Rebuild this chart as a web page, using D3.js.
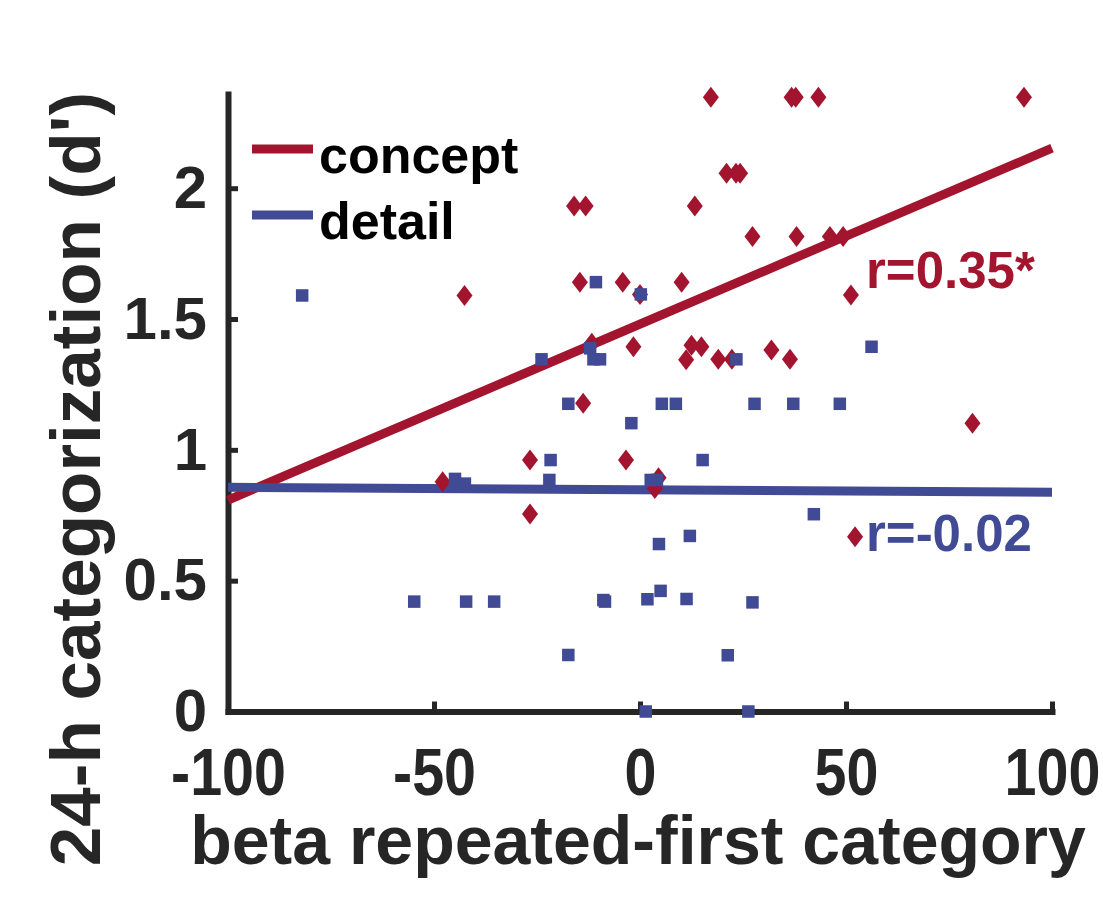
<!DOCTYPE html>
<html>
<head>
<meta charset="utf-8">
<script src="https://cdn.jsdelivr.net/npm/d3@7"></script>
<style>
  html, body { margin: 0; padding: 0; background: #fff; }
  svg { display: block; }
  text { font-family: "Liberation Sans", Arial, Helvetica, sans-serif; font-weight: bold; }
</style>
</head>
<body>
<svg id="chart" width="1103" height="897"></svg>
<script>
// Concept-level memory: beta (repeated - first category) vs 24-h d'
const conceptX = [-42.6, -16.0, -13.2, -14.6, -4.2, -1.6, -11.7, -13.8, 0.0,
  17.2, 36.8, 37.8, 43.3, 93.2, 21.0, 23.3, 24.3, 13.3, 27.3, 38.0, 46.1, 49.3,
  10.1, 51.2, 12.5, 14.9, 11.2, 19.0, 22.3, 31.9, 36.4, 80.7, -26.7, -3.4,
  -47.9, -26.7, 4.5, 3.6, 52.2];
const conceptY = [1.59, 1.932, 1.932, 1.641, 1.641, 1.394, 1.407, 1.178, 1.594,
  2.348, 2.348, 2.348, 2.348, 2.348, 2.057, 2.057, 2.057, 1.932, 1.815, 1.815, 1.815, 1.815,
  1.641, 1.592, 1.40, 1.394, 1.344, 1.346, 1.346, 1.382, 1.346, 1.102, 0.961, 0.961,
  0.878, 0.755, 0.893, 0.852, 0.668];

// Detail-level memory
const detailX = [-82.0, -10.7, 0.2, -23.9, -12.1, -11.3, -9.7, -17.4, 23.4, 56.2,
  5.3, 8.7, 27.8, 37.2, 48.5, -2.1, -21.7, 15.2, -44.9, -42.5, -22.0, 2.6, 4.1,
  42.2, 4.6, 12.1, -54.8, -42.2, -35.4, -8.9, -8.5, 1.8, 5.0, 11.3, 27.3,
  -17.4, 21.3, 1.4, 26.3];
const detailY = [1.59, 1.641, 1.594, 1.346, 1.388, 1.346, 1.346, 1.176, 1.346, 1.394,
  1.176, 1.176, 1.176, 1.176, 1.176, 1.102, 0.961, 0.961, 0.889, 0.871, 0.885, 0.885, 0.885,
  0.754, 0.64, 0.671, 0.42, 0.42, 0.42, 0.426, 0.42, 0.429, 0.461, 0.43, 0.417,
  0.216, 0.215, 0.0, 0.0];

// Least-squares fit lines, evaluated at the x-axis limits
const fitX = [-100, 100];
const conceptFitY = [0.808, 2.153];
const detailFitY = [0.857, 0.838];

const xTicks = [-100, -50, 0, 50, 100];
const yTicks = [0, 0.5, 1, 1.5, 2];
const seriesNames = ["concept", "detail"];
const corrLabels = ["r=0.35*", "r=-0.02"];

const RED = "#a3142f";
const BLUE = "#414a94";
const AXIS = "#262626";

const svg = d3.select("#chart");

const x = d3.scaleLinear().domain([-100, 100]).range([228, 1052]);
const y = d3.scaleLinear().domain([0, 2.36]).range([711.5, 94]);

// Axes (ticks pointing inward, box off)
const gx = svg.append("g")
  .attr("transform", `translate(0,${y(0)})`)
  .call(d3.axisBottom(x).tickValues(xTicks).tickFormat(d => String(d))
    .tickSize(-10).tickSizeOuter(0).tickPadding(37));
const gy = svg.append("g")
  .attr("transform", `translate(${x(-100)},0)`)
  .call(d3.axisLeft(y).tickValues(yTicks).tickFormat(d => String(d))
    .tickSize(-10).tickSizeOuter(0).tickPadding(21));

[gx, gy].forEach(g => {
  g.select(".domain").attr("stroke", AXIS).attr("stroke-width", 6).attr("stroke-linecap", "square");
  g.selectAll(".tick line").attr("stroke", AXIS).attr("stroke-width", 5);
  g.selectAll(".tick text").attr("fill", AXIS).style("font-family", "'Liberation Sans', Arial, sans-serif").style("font-weight", "bold");
});
gx.selectAll(".tick text").attr("font-size", 66).attr("transform", "scale(0.87,1)");
gy.selectAll(".tick text").attr("font-size", 60);

// Axis titles
svg.append("text")
  .attr("x", 638).attr("y", 864)
  .attr("text-anchor", "middle")
  .attr("font-size", 68)
  .attr("fill", AXIS)
  .text("beta repeated-first category");

svg.append("text")
  .attr("transform", "translate(100,479) rotate(-90)")
  .attr("text-anchor", "middle")
  .attr("font-size", 71)
  .attr("fill", AXIS)
  .text("24-h categorization (d')");

// Fit lines
const line = d3.line().x(d => x(d[0])).y(d => y(d[1]));
svg.append("path")
  .datum(d3.zip(fitX, conceptFitY))
  .attr("d", line).attr("fill", "none").attr("stroke", RED).attr("stroke-width", 9);
svg.append("path")
  .datum(d3.zip(fitX, detailFitY))
  .attr("d", line).attr("fill", "none").attr("stroke", BLUE).attr("stroke-width", 9);

// Concept points: diamonds
const dw = 8, dh = 10.5;
svg.append("g").selectAll("path")
  .data(d3.zip(conceptX, conceptY))
  .join("path")
  .attr("transform", d => `translate(${x(d[0])},${y(d[1])})`)
  .attr("d", `M0,${-dh}L${dw},0L0,${dh}L${-dw},0Z`)
  .attr("fill", RED);

// Detail points: squares
const s = 12.5;
svg.append("g").selectAll("rect")
  .data(d3.zip(detailX, detailY))
  .join("rect")
  .attr("x", d => x(d[0]) - s / 2)
  .attr("y", d => y(d[1]) - s / 2)
  .attr("width", s).attr("height", s)
  .attr("fill", BLUE);

// Correlation labels
svg.append("text").attr("x", 866).attr("y", 288)
  .attr("font-size", 51).attr("fill", RED).text(corrLabels[0]);
svg.append("text").attr("x", 866).attr("y", 551)
  .attr("font-size", 51).attr("fill", BLUE).text(corrLabels[1]);

// Legend
const legend = svg.append("g");
[RED, BLUE].forEach((c, i) => {
  const ly = 149 + i * 66;
  legend.append("line")
    .attr("x1", 252).attr("x2", 313).attr("y1", ly).attr("y2", ly)
    .attr("stroke", c).attr("stroke-width", 9);
  legend.append("text")
    .attr("x", 319).attr("y", ly + 24)
    .attr("font-size", 52).attr("fill", "#000")
    .text(seriesNames[i]);
});
</script>
</body>
</html>
